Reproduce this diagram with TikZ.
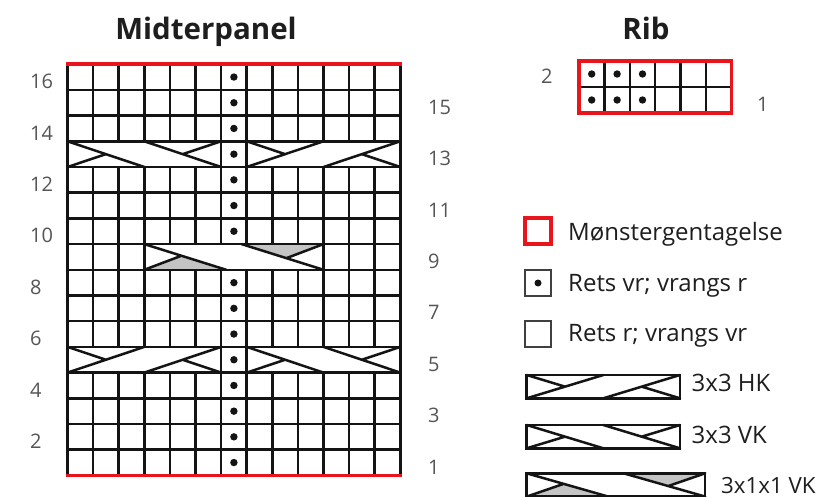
\documentclass[tikz,border=0pt]{standalone}
\usepackage{fontspec}
\setmainfont{Open Sans}
\definecolor{chartred}{RGB}{232,22,28}
\definecolor{numgray}{RGB}{85,85,85}
\definecolor{txtdark}{RGB}{30,30,30}
\definecolor{purlgray}{RGB}{196,196,196}
\definecolor{ink}{RGB}{20,20,20}
\tikzset{
  gridline/.style={line width=2.5pt, draw=ink},
  redline/.style={line width=3.8pt, draw=chartred},
  cableline/.style={line width=2.5pt, draw=ink, line cap=round},
  numlabel/.style={font=\fontsize{20}{22}\selectfont, text=numgray, inner sep=0pt, anchor=west},
  legtext/.style={font=\fontsize{24}{26}\selectfont, text=txtdark, inner sep=0pt, anchor=base west},
  titletext/.style={font=\bfseries\fontsize{29.5}{32}\selectfont, text=txtdark, inner sep=0pt, anchor=base},
  knitdot/.style={fill=ink},
  pics/vkcable/.style={code={
    \draw[cableline] (0,1)--(3,0) (3,1)--(6,0) (0,0)--(1.5,0.5) (6,1)--(4.5,0.5);
  }},
  pics/hkcable/.style={code={
    \draw[cableline] (0,0)--(3,1) (3,0)--(6,1) (0,1)--(1.5,0.5) (6,0)--(4.5,0.5);
  }},
  pics/vkpurl/.style={code={
    \fill[purlgray] (0,0)--(1.45,0.547)--(3.2,0)--cycle;
    \fill[purlgray] (7,1)--(5.55,0.453)--(3.8,1)--cycle;
    \draw[cableline] (0,1)--(3.2,0) (3.8,1)--(7,0) (0,0)--(1.45,0.547) (7,1)--(5.55,0.453);
  }},
}
\begin{document}
\begin{tikzpicture}[x=1pt,y=-1pt]
\useasboundingbox (0,0) rectangle (829,497);
\fill[white] (0,0) rectangle (829,497);

% titles
\node[titletext] (titlemid) at (206,40) {Midterpanel};
\node[titletext] (titlerib) at (646,40) {Rib};

% main chart
\begin{scope}[shift={(67.5,475.4)}, x=25.6pt, y=25.7pt]
  \pic at (0,12) {vkcable};
  \pic at (7,12) {hkcable};
  \pic at (0,4) {hkcable};
  \pic at (7,4) {vkcable};
  \pic at (3,8) {vkpurl};
  \foreach \r in {1,...,15} \draw[gridline] (0,\r)--(13,\r);
  \foreach \a/\b in {0/4,5/8,9/12,13/16}
    \foreach \c in {0,...,13} \draw[gridline] (\c,\a)--(\c,\b);
  \foreach \a in {4,12}
    \foreach \c in {0,6,7,13} \draw[gridline] (\c,\a)--(\c,\a+1);
  \foreach \c in {0,1,2,3,10,11,12,13} \draw[gridline] (\c,8)--(\c,9);
  \draw[redline] (-0.05,0)--(13.05,0);
  \draw[redline] (-0.05,16)--(13.05,16);
  \foreach \r in {1,...,8,10,11,...,16} \fill[knitdot] (6.5,\r-0.5) circle[radius=3.7pt];
\end{scope}

% row numbers
\foreach \r in {2,4,...,16}
  \node[numlabel] (left\r) at (30,{475.4-(\r-0.5)*25.7+4.5}) {\r};
\foreach \r in {1,3,...,15}
  \node[numlabel] (right\r) at (428,{475.4-(\r-0.5)*25.7+4.5}) {\r};

% rib chart
\begin{scope}[shift={(579,113)}, x=25.4pt, y=26pt]
  \draw[gridline] (0,1)--(6,1);
  \foreach \c in {1,...,5} \draw[gridline] (\c,0)--(\c,2);
  \draw[redline] (0,0) rectangle (6,2);
  \foreach \c in {0,1,2} \foreach \r in {0,1} \fill[knitdot] (\c+0.5,\r+0.5) circle[radius=3.7pt];
\end{scope}
\node[numlabel] (ribtwo) at (541,76) {2};
\node[numlabel] (ribone) at (757,104) {1};

% legend squares
\draw[redline, line width=3.6pt] (525,218) rectangle (551,244);
\draw[gridline, draw=black!75] (525,270) rectangle (551,296);
\fill[knitdot] (538,283) circle[radius=3.5pt];
\draw[gridline, draw=black!75] (525,321) rectangle (551,347);

\node[legtext] (legrepeat) at (568,240.7) {Mønstergentagelse};
\node[legtext] (legpurl) at (568,291.7) {Rets vr; vrangs r};
\node[legtext] (legknit) at (568,341.7) {Rets r; vrangs vr};

% legend cables
\begin{scope}[shift={(526.7,398.3)}, x=25.55pt, y=23.3pt]
  \pic at (0,0) {hkcable};
  \draw[gridline] (0,0) rectangle (6,1);
\end{scope}
\begin{scope}[shift={(526.7,448.3)}, x=25.55pt, y=23.3pt]
  \pic at (0,0) {vkcable};
  \draw[gridline] (0,0) rectangle (6,1);
\end{scope}
\begin{scope}[shift={(526.7,496.6)}, x=25.5pt, y=23.3pt]
  \pic at (0,0) {vkpurl};
  \draw[gridline] (0,0) rectangle (7,1);
\end{scope}
\node[legtext] (leghk) at (691.5,391.7) {3x3 HK};
\node[legtext] (legvk) at (691.5,443.3) {3x3 VK};
\node[legtext, font=\fontsize{22.3}{24}\selectfont] (legpvk) at (721,493) {3x1x1 VK};
\end{tikzpicture}
\end{document}
